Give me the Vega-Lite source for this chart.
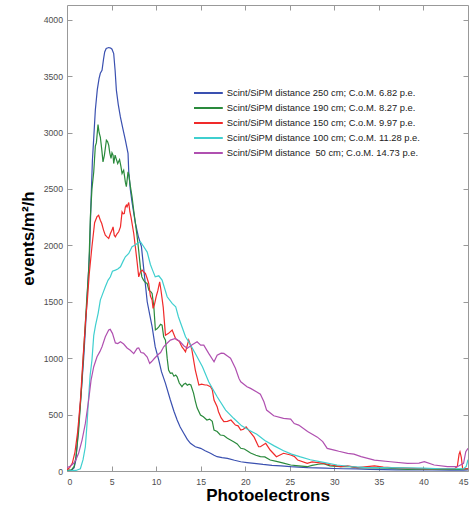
{
  "$schema": "https://vega.github.io/schema/vega-lite/v6.json",
  "width": 401,
  "height": 466,
  "autosize": "none",
  "padding": {"left": 67, "top": 5, "right": 4, "bottom": 37},
  "config": {"font": "Liberation Sans", "view": {"stroke": null}},
  "layer": [
    {
      "data": {"values": [
        {"d":250,"x":0,"y":5},{"d":250,"x":0.5,"y":5},{"d":250,"x":0.8,"y":30},{"d":250,"x":1.0,"y":100},{"d":250,"x":1.2,"y":300},{"d":250,"x":1.4,"y":500},{"d":250,"x":1.6,"y":700},{"d":250,"x":1.87,"y":1000},{"d":250,"x":2.06,"y":1250},{"d":250,"x":2.3,"y":1600},{"d":250,"x":2.54,"y":1950},{"d":250,"x":2.7,"y":2400},{"d":250,"x":2.85,"y":2750},{"d":250,"x":3.0,"y":2950},{"d":250,"x":3.18,"y":3200},{"d":250,"x":3.4,"y":3380},{"d":250,"x":3.6,"y":3480},{"d":250,"x":3.74,"y":3525},{"d":250,"x":3.93,"y":3552},{"d":250,"x":4.1,"y":3650},{"d":250,"x":4.23,"y":3714},{"d":250,"x":4.4,"y":3745},{"d":250,"x":4.68,"y":3753},{"d":250,"x":4.9,"y":3748},{"d":250,"x":5.05,"y":3738},{"d":250,"x":5.24,"y":3700},{"d":250,"x":5.4,"y":3550},{"d":250,"x":5.54,"y":3375},{"d":250,"x":5.75,"y":3250},{"d":250,"x":5.99,"y":3138},{"d":250,"x":6.25,"y":3040},{"d":250,"x":6.55,"y":2932},{"d":250,"x":6.85,"y":2815},{"d":250,"x":6.93,"y":2650},{"d":250,"x":7.1,"y":2500},{"d":250,"x":7.3,"y":2380},{"d":250,"x":7.67,"y":2200},{"d":250,"x":8.0,"y":2080},{"d":250,"x":8.35,"y":1990},{"d":250,"x":8.6,"y":1800},{"d":250,"x":9.0,"y":1500},{"d":250,"x":9.3,"y":1380},{"d":250,"x":9.55,"y":1280},{"d":250,"x":9.9,"y":1100},{"d":250,"x":10.3,"y":983},{"d":250,"x":10.6,"y":880},{"d":250,"x":11.05,"y":777},{"d":250,"x":11.6,"y":629},{"d":250,"x":12.0,"y":530},{"d":250,"x":12.36,"y":452},{"d":250,"x":12.7,"y":390},{"d":250,"x":13.1,"y":334},{"d":250,"x":13.5,"y":280},{"d":250,"x":13.85,"y":245},{"d":250,"x":14.4,"y":215},{"d":250,"x":15,"y":201},{"d":250,"x":15.5,"y":180},{"d":250,"x":16.1,"y":157},{"d":250,"x":16.5,"y":140},{"d":250,"x":16.85,"y":127},{"d":250,"x":17.4,"y":118},{"d":250,"x":18,"y":112},{"d":250,"x":18.8,"y":95},{"d":250,"x":19.5,"y":82},{"d":250,"x":20.2,"y":75},{"d":250,"x":21,"y":68},{"d":250,"x":22,"y":58},{"d":250,"x":23,"y":50},{"d":250,"x":24,"y":45},{"d":250,"x":25.1,"y":38},{"d":250,"x":26,"y":35},{"d":250,"x":27,"y":30},{"d":250,"x":28,"y":28},{"d":250,"x":29,"y":25},{"d":250,"x":30,"y":22},{"d":250,"x":31,"y":20},{"d":250,"x":32.5,"y":18},{"d":250,"x":34,"y":15},{"d":250,"x":35.5,"y":12},{"d":250,"x":37,"y":10},{"d":250,"x":39,"y":10},{"d":250,"x":41,"y":9},{"d":250,"x":43,"y":8},{"d":250,"x":44.5,"y":8},{"d":250,"x":45,"y":10},
        {"d":190,"x":0,"y":5},{"d":190,"x":0.5,"y":10},{"d":190,"x":0.8,"y":40},{"d":190,"x":1.0,"y":120},{"d":190,"x":1.3,"y":350},{"d":190,"x":1.6,"y":700},{"d":190,"x":1.9,"y":1100},{"d":190,"x":2.2,"y":1500},{"d":190,"x":2.45,"y":1800},{"d":190,"x":2.62,"y":2250},{"d":190,"x":2.8,"y":2500},{"d":190,"x":3.0,"y":2650},{"d":190,"x":3.18,"y":2880},{"d":190,"x":3.3,"y":2910},{"d":190,"x":3.48,"y":3070},{"d":190,"x":3.6,"y":3000},{"d":190,"x":3.74,"y":2960},{"d":190,"x":3.9,"y":2850},{"d":190,"x":4.04,"y":2740},{"d":190,"x":4.2,"y":2800},{"d":190,"x":4.42,"y":2932},{"d":190,"x":4.55,"y":2920},{"d":190,"x":4.68,"y":2888},{"d":190,"x":4.8,"y":2820},{"d":190,"x":4.94,"y":2770},{"d":190,"x":5.05,"y":2820},{"d":190,"x":5.17,"y":2800},{"d":190,"x":5.24,"y":2725},{"d":190,"x":5.4,"y":2800},{"d":190,"x":5.55,"y":2760},{"d":190,"x":5.69,"y":2725},{"d":190,"x":5.9,"y":2760},{"d":190,"x":6.05,"y":2700},{"d":190,"x":6.18,"y":2637},{"d":190,"x":6.36,"y":2666},{"d":190,"x":6.55,"y":2560},{"d":190,"x":6.66,"y":2520},{"d":190,"x":6.85,"y":2651},{"d":190,"x":6.95,"y":2620},{"d":190,"x":7.1,"y":2530},{"d":190,"x":7.3,"y":2430},{"d":190,"x":7.5,"y":2300},{"d":190,"x":7.67,"y":2200},{"d":190,"x":7.87,"y":2080},{"d":190,"x":8.05,"y":1950},{"d":190,"x":8.24,"y":1800},{"d":190,"x":8.4,"y":1720},{"d":190,"x":8.6,"y":1690},{"d":190,"x":8.8,"y":1670},{"d":190,"x":8.99,"y":1663},{"d":190,"x":9.2,"y":1600},{"d":190,"x":9.4,"y":1590},{"d":190,"x":9.55,"y":1574},{"d":190,"x":9.75,"y":1450},{"d":190,"x":9.92,"y":1250},{"d":190,"x":10.1,"y":1260},{"d":190,"x":10.3,"y":1278},{"d":190,"x":10.5,"y":1300},{"d":190,"x":10.67,"y":1293},{"d":190,"x":10.85,"y":1190},{"d":190,"x":11.05,"y":1160},{"d":190,"x":11.24,"y":1000},{"d":190,"x":11.4,"y":895},{"d":190,"x":11.6,"y":866},{"d":190,"x":11.8,"y":870},{"d":190,"x":12.0,"y":840},{"d":190,"x":12.2,"y":850},{"d":190,"x":12.36,"y":835},{"d":190,"x":12.6,"y":780},{"d":190,"x":12.9,"y":747},{"d":190,"x":13.1,"y":770},{"d":190,"x":13.3,"y":777},{"d":190,"x":13.5,"y":760},{"d":190,"x":13.7,"y":770},{"d":190,"x":13.9,"y":762},{"d":190,"x":14.2,"y":690},{"d":190,"x":14.4,"y":620},{"d":190,"x":14.6,"y":560},{"d":190,"x":14.98,"y":496},{"d":190,"x":15.3,"y":480},{"d":190,"x":15.7,"y":452},{"d":190,"x":16.0,"y":460},{"d":190,"x":16.3,"y":440},{"d":190,"x":16.5,"y":363},{"d":190,"x":16.85,"y":350},{"d":190,"x":17.2,"y":319},{"d":190,"x":17.6,"y":315},{"d":190,"x":18.0,"y":290},{"d":190,"x":18.35,"y":275},{"d":190,"x":18.7,"y":260},{"d":190,"x":19.1,"y":240},{"d":190,"x":19.5,"y":201},{"d":190,"x":19.9,"y":195},{"d":190,"x":20.3,"y":175},{"d":190,"x":20.6,"y":160},{"d":190,"x":21.2,"y":140},{"d":190,"x":21.7,"y":127},{"d":190,"x":22.2,"y":125},{"d":190,"x":22.8,"y":97},{"d":190,"x":23.5,"y":85},{"d":190,"x":24.3,"y":70},{"d":190,"x":25.1,"y":53},{"d":190,"x":26,"y":45},{"d":190,"x":26.96,"y":38},{"d":190,"x":27.5,"y":50},{"d":190,"x":28.2,"y":60},{"d":190,"x":28.8,"y":65},{"d":190,"x":29.5,"y":45},{"d":190,"x":30.7,"y":38},{"d":190,"x":31.5,"y":40},{"d":190,"x":32.6,"y":30},{"d":190,"x":34.5,"y":28},{"d":190,"x":36,"y":25},{"d":190,"x":38.2,"y":15},{"d":190,"x":40,"y":18},{"d":190,"x":42,"y":15},{"d":190,"x":44,"y":15},{"d":190,"x":45,"y":20},
        {"d":150,"x":0,"y":10},{"d":150,"x":0.3,"y":30},{"d":150,"x":0.6,"y":70},{"d":150,"x":0.9,"y":170},{"d":150,"x":1.2,"y":350},{"d":150,"x":1.5,"y":620},{"d":150,"x":1.8,"y":1000},{"d":150,"x":2.1,"y":1350},{"d":150,"x":2.3,"y":1530},{"d":150,"x":2.5,"y":1750},{"d":150,"x":2.8,"y":1990},{"d":150,"x":3.1,"y":2200},{"d":150,"x":3.37,"y":2255},{"d":150,"x":3.55,"y":2267},{"d":150,"x":3.74,"y":2223},{"d":150,"x":3.9,"y":2193},{"d":150,"x":4.1,"y":2135},{"d":150,"x":4.3,"y":2090},{"d":150,"x":4.49,"y":2075},{"d":150,"x":4.68,"y":2061},{"d":150,"x":4.87,"y":2105},{"d":150,"x":5.05,"y":2135},{"d":150,"x":5.17,"y":2164},{"d":150,"x":5.3,"y":2090},{"d":150,"x":5.43,"y":2075},{"d":150,"x":5.6,"y":2100},{"d":150,"x":5.8,"y":2120},{"d":150,"x":6.0,"y":2164},{"d":150,"x":6.18,"y":2297},{"d":150,"x":6.3,"y":2280},{"d":150,"x":6.43,"y":2282},{"d":150,"x":6.55,"y":2340},{"d":150,"x":6.66,"y":2356},{"d":150,"x":6.74,"y":2341},{"d":150,"x":6.93,"y":2380},{"d":150,"x":7.05,"y":2300},{"d":150,"x":7.18,"y":2252},{"d":150,"x":7.3,"y":2194},{"d":150,"x":7.49,"y":2105},{"d":150,"x":7.67,"y":1987},{"d":150,"x":7.87,"y":1850},{"d":150,"x":8.05,"y":1721},{"d":150,"x":8.24,"y":1765},{"d":150,"x":8.43,"y":1780},{"d":150,"x":8.6,"y":1765},{"d":150,"x":8.8,"y":1751},{"d":150,"x":9.0,"y":1706},{"d":150,"x":9.17,"y":1662},{"d":150,"x":9.36,"y":1550},{"d":150,"x":9.55,"y":1515},{"d":150,"x":9.66,"y":1441},{"d":150,"x":9.8,"y":1470},{"d":150,"x":10.0,"y":1544},{"d":150,"x":10.2,"y":1600},{"d":150,"x":10.4,"y":1677},{"d":150,"x":10.55,"y":1600},{"d":150,"x":10.8,"y":1450},{"d":150,"x":11.05,"y":1204},{"d":150,"x":11.4,"y":1220},{"d":150,"x":11.8,"y":1249},{"d":150,"x":12.0,"y":1210},{"d":150,"x":12.2,"y":1170},{"d":150,"x":12.36,"y":1160},{"d":150,"x":12.6,"y":1150},{"d":150,"x":12.9,"y":1100},{"d":150,"x":13.1,"y":1080},{"d":150,"x":13.3,"y":1057},{"d":150,"x":13.66,"y":1160},{"d":150,"x":14.0,"y":1080},{"d":150,"x":14.4,"y":895},{"d":150,"x":14.8,"y":762},{"d":150,"x":15.1,"y":770},{"d":150,"x":15.5,"y":762},{"d":150,"x":15.7,"y":762},{"d":150,"x":16.1,"y":747},{"d":150,"x":16.3,"y":720},{"d":150,"x":16.5,"y":629},{"d":150,"x":16.85,"y":570},{"d":150,"x":17.0,"y":525},{"d":150,"x":17.3,"y":470},{"d":150,"x":17.6,"y":437},{"d":150,"x":18.0,"y":440},{"d":150,"x":18.4,"y":452},{"d":150,"x":18.9,"y":407},{"d":150,"x":19.2,"y":400},{"d":150,"x":19.5,"y":363},{"d":150,"x":19.8,"y":370},{"d":150,"x":20.1,"y":392},{"d":150,"x":20.6,"y":340},{"d":150,"x":21.0,"y":300},{"d":150,"x":21.5,"y":215},{"d":150,"x":21.7,"y":215},{"d":150,"x":22.3,"y":245},{"d":150,"x":22.8,"y":186},{"d":150,"x":23.5,"y":127},{"d":150,"x":24.3,"y":157},{"d":150,"x":25.1,"y":142},{"d":150,"x":25.5,"y":130},{"d":150,"x":25.9,"y":97},{"d":150,"x":26.96,"y":68},{"d":150,"x":27.5,"y":80},{"d":150,"x":28.8,"y":68},{"d":150,"x":29.6,"y":53},{"d":150,"x":30.7,"y":38},{"d":150,"x":31.5,"y":45},{"d":150,"x":32.6,"y":30},{"d":150,"x":34.5,"y":45},{"d":150,"x":35.5,"y":35},{"d":150,"x":36.4,"y":30},{"d":150,"x":38,"y":25},{"d":150,"x":40,"y":20},{"d":150,"x":42,"y":20},{"d":150,"x":43.5,"y":20},{"d":150,"x":43.8,"y":40},{"d":150,"x":44.0,"y":150},{"d":150,"x":44.1,"y":171},{"d":150,"x":44.25,"y":120},{"d":150,"x":44.4,"y":20},{"d":150,"x":45,"y":20},
        {"d":100,"x":0,"y":0},{"d":100,"x":1.0,"y":5},{"d":100,"x":1.5,"y":20},{"d":100,"x":1.8,"y":100},{"d":100,"x":2.06,"y":215},{"d":100,"x":2.25,"y":420},{"d":100,"x":2.43,"y":658},{"d":100,"x":2.6,"y":850},{"d":100,"x":2.8,"y":983},{"d":100,"x":3.0,"y":1200},{"d":100,"x":3.2,"y":1290},{"d":100,"x":3.5,"y":1400},{"d":100,"x":3.74,"y":1515},{"d":100,"x":4.0,"y":1570},{"d":100,"x":4.3,"y":1633},{"d":100,"x":4.6,"y":1690},{"d":100,"x":4.87,"y":1721},{"d":100,"x":5.1,"y":1770},{"d":100,"x":5.43,"y":1780},{"d":100,"x":5.7,"y":1790},{"d":100,"x":6.0,"y":1810},{"d":100,"x":6.3,"y":1860},{"d":100,"x":6.55,"y":1898},{"d":100,"x":6.93,"y":1928},{"d":100,"x":7.3,"y":1987},{"d":100,"x":7.6,"y":2000},{"d":100,"x":7.87,"y":2017},{"d":100,"x":8.24,"y":2031},{"d":100,"x":8.6,"y":1990},{"d":100,"x":9.0,"y":1940},{"d":100,"x":9.36,"y":1830},{"d":100,"x":9.6,"y":1780},{"d":100,"x":9.9,"y":1721},{"d":100,"x":10.3,"y":1730},{"d":100,"x":10.67,"y":1692},{"d":100,"x":11.24,"y":1544},{"d":100,"x":11.8,"y":1485},{"d":100,"x":12.2,"y":1456},{"d":100,"x":12.5,"y":1367},{"d":100,"x":12.9,"y":1278},{"d":100,"x":13.3,"y":1190},{"d":100,"x":13.7,"y":1140},{"d":100,"x":14.4,"y":1042},{"d":100,"x":15.2,"y":924},{"d":100,"x":15.9,"y":791},{"d":100,"x":16.85,"y":658},{"d":100,"x":17.8,"y":540},{"d":100,"x":18.7,"y":467},{"d":100,"x":19.6,"y":400},{"d":100,"x":20.6,"y":355},{"d":100,"x":21.3,"y":325},{"d":100,"x":22.2,"y":270},{"d":100,"x":23.2,"y":225},{"d":100,"x":24.3,"y":180},{"d":100,"x":25.2,"y":150},{"d":100,"x":26.2,"y":125},{"d":100,"x":27.3,"y":100},{"d":100,"x":28.8,"y":77},{"d":100,"x":30.3,"y":53},{"d":100,"x":31.8,"y":40},{"d":100,"x":33.3,"y":32},{"d":100,"x":35,"y":30},{"d":100,"x":38,"y":28},{"d":100,"x":40,"y":25},{"d":100,"x":42,"y":20},{"d":100,"x":44.5,"y":20},{"d":100,"x":44.8,"y":40},{"d":100,"x":45,"y":100},
        {"d":50,"x":0,"y":30},{"d":50,"x":0.4,"y":45},{"d":50,"x":0.75,"y":68},{"d":50,"x":1.0,"y":100},{"d":50,"x":1.3,"y":157},{"d":50,"x":1.69,"y":274},{"d":50,"x":2.06,"y":422},{"d":50,"x":2.43,"y":629},{"d":50,"x":2.7,"y":806},{"d":50,"x":3.0,"y":924},{"d":50,"x":3.37,"y":1012},{"d":50,"x":3.7,"y":1060},{"d":50,"x":3.93,"y":1101},{"d":50,"x":4.3,"y":1190},{"d":50,"x":4.68,"y":1249},{"d":50,"x":4.85,"y":1255},{"d":50,"x":5.1,"y":1220},{"d":50,"x":5.43,"y":1135},{"d":50,"x":5.7,"y":1130},{"d":50,"x":6.0,"y":1145},{"d":50,"x":6.36,"y":1125},{"d":50,"x":6.74,"y":1090},{"d":50,"x":7.1,"y":1070},{"d":50,"x":7.49,"y":1040},{"d":50,"x":7.87,"y":1087},{"d":50,"x":8.05,"y":1090},{"d":50,"x":8.3,"y":1050},{"d":50,"x":8.6,"y":1045},{"d":50,"x":9.0,"y":1010},{"d":50,"x":9.28,"y":954},{"d":50,"x":9.5,"y":970},{"d":50,"x":9.8,"y":997},{"d":50,"x":10.2,"y":1030},{"d":50,"x":10.5,"y":1050},{"d":50,"x":10.85,"y":1101},{"d":50,"x":11.2,"y":1130},{"d":50,"x":11.6,"y":1160},{"d":50,"x":12.17,"y":1175},{"d":50,"x":12.7,"y":1145},{"d":50,"x":13.1,"y":1110},{"d":50,"x":13.5,"y":1087},{"d":50,"x":14.0,"y":1116},{"d":50,"x":14.6,"y":1145},{"d":50,"x":15.0,"y":1116},{"d":50,"x":15.35,"y":1116},{"d":50,"x":15.9,"y":1042},{"d":50,"x":16.5,"y":968},{"d":50,"x":16.85,"y":1027},{"d":50,"x":17.3,"y":1045},{"d":50,"x":17.6,"y":1042},{"d":50,"x":18.0,"y":1020},{"d":50,"x":18.35,"y":1000},{"d":50,"x":18.9,"y":910},{"d":50,"x":19.3,"y":820},{"d":50,"x":19.5,"y":791},{"d":50,"x":20.2,"y":747},{"d":50,"x":20.6,"y":732},{"d":50,"x":21.3,"y":700},{"d":50,"x":21.7,"y":680},{"d":50,"x":22.1,"y":614},{"d":50,"x":22.4,"y":540},{"d":50,"x":23.2,"y":490},{"d":50,"x":24.3,"y":467},{"d":50,"x":25.1,"y":460},{"d":50,"x":25.5,"y":420},{"d":50,"x":26,"y":407},{"d":50,"x":27,"y":350},{"d":50,"x":28.1,"y":300},{"d":50,"x":28.7,"y":260},{"d":50,"x":29.2,"y":200},{"d":50,"x":30,"y":185},{"d":50,"x":30.5,"y":175},{"d":50,"x":31.5,"y":157},{"d":50,"x":32.2,"y":150},{"d":50,"x":33,"y":127},{"d":50,"x":34.5,"y":97},{"d":50,"x":36.3,"y":82},{"d":50,"x":38.2,"y":68},{"d":50,"x":39.5,"y":70},{"d":50,"x":40.1,"y":82},{"d":50,"x":41.2,"y":53},{"d":50,"x":42.7,"y":38},{"d":50,"x":43.8,"y":38},{"d":50,"x":44.5,"y":68},{"d":50,"x":44.75,"y":171},{"d":50,"x":45,"y":201}
      ]},
      "transform": [
        {"lookup": "d", "from": {"data": {"values": [
          {"d": 250, "label": "Scint/SiPM distance 250 cm; C.o.M. 6.82 p.e."},
          {"d": 190, "label": "Scint/SiPM distance 190 cm; C.o.M. 8.27 p.e."},
          {"d": 150, "label": "Scint/SiPM distance 150 cm; C.o.M. 9.97 p.e."},
          {"d": 100, "label": "Scint/SiPM distance 100 cm; C.o.M. 11.28 p.e."},
          {"d": 50, "label": "Scint/SiPM distance \u00a050 cm; C.o.M. 14.73 p.e."}
        ]}, "key": "d", "fields": ["label"]}}
      ],
      "mark": {"type": "line", "strokeWidth": 1.2, "clip": true},
      "encoding": {
        "x": {"field": "x", "type": "quantitative", "scale": {"domain": [0, 45], "nice": false, "zero": false},
          "axis": {"title": "Photoelectrons", "values": [0,5,10,15,20,25,30,35,40,45], "format": "d", "grid": false,
            "labelFontSize": 8.7, "labelColor": "#4d4d4d", "tickColor": "#999", "domainColor": "#999",
            "tickSize": -5, "labelPadding": 11, "titleFontSize": 17, "titleFontWeight": "bold", "titleColor": "#000", "titlePadding": 2}},
        "y": {"field": "y", "type": "quantitative", "scale": {"domain": [0, 4130], "nice": false, "zero": false},
          "axis": {"title": "events/m²/h", "values": [0,500,1000,1500,2000,2500,3000,3500,4000], "format": "d", "grid": false,
            "labelFontSize": 8.7, "labelColor": "#4d4d4d", "tickColor": "#999", "domainColor": "#999",
            "tickSize": -5, "labelPadding": 9.5, "titleFontSize": 17, "titleFontWeight": "bold", "titleColor": "#000", "titlePadding": 6}},
        "color": {"field": "label", "type": "nominal",
          "scale": {
            "domain": ["Scint/SiPM distance 250 cm; C.o.M. 6.82 p.e.", "Scint/SiPM distance 190 cm; C.o.M. 8.27 p.e.", "Scint/SiPM distance 150 cm; C.o.M. 9.97 p.e.", "Scint/SiPM distance 100 cm; C.o.M. 11.28 p.e.", "Scint/SiPM distance \u00a050 cm; C.o.M. 14.73 p.e."],
            "range": ["#3a50b0", "#2a8a3c", "#f02a2a", "#3fcfcf", "#b050b0"]},
          "legend": {"title": null, "orient": "none", "legendX": 134.4, "legendY": 81, "padding": 0,
            "symbolType": "M-2.4,0L2.4,0", "symbolSize": 144, "symbolStrokeWidth": 2, "rowPadding": 3,
            "labelFontSize": 9.4, "labelColor": "#222", "labelOffset": 11.4, "labelLimit": 400}}
      }
    },
    {
      "data": {"values": [{"x": 0, "y": 0}]},
      "mark": {"type": "point", "opacity": 0},
      "encoding": {
        "x": {"field": "x", "type": "quantitative", "scale": {"domain": [0, 45], "nice": false, "zero": false},
          "axis": {"orient": "top", "title": null, "labels": false, "values": [5,10,15,20,25,30,35,40], "grid": false,
            "tickColor": "#999", "domainColor": "#999", "tickSize": -5}},
        "y": {"field": "y", "type": "quantitative", "scale": {"domain": [0, 4130], "nice": false, "zero": false},
          "axis": {"orient": "right", "title": null, "labels": false, "values": [500,1000,1500,2000,2500,3000,3500,4000], "grid": false,
            "tickColor": "#999", "domainColor": "#999", "tickSize": -5}}
      }
    }
  ],
  "resolve": {"axis": {"x": "independent", "y": "independent"}}
}
